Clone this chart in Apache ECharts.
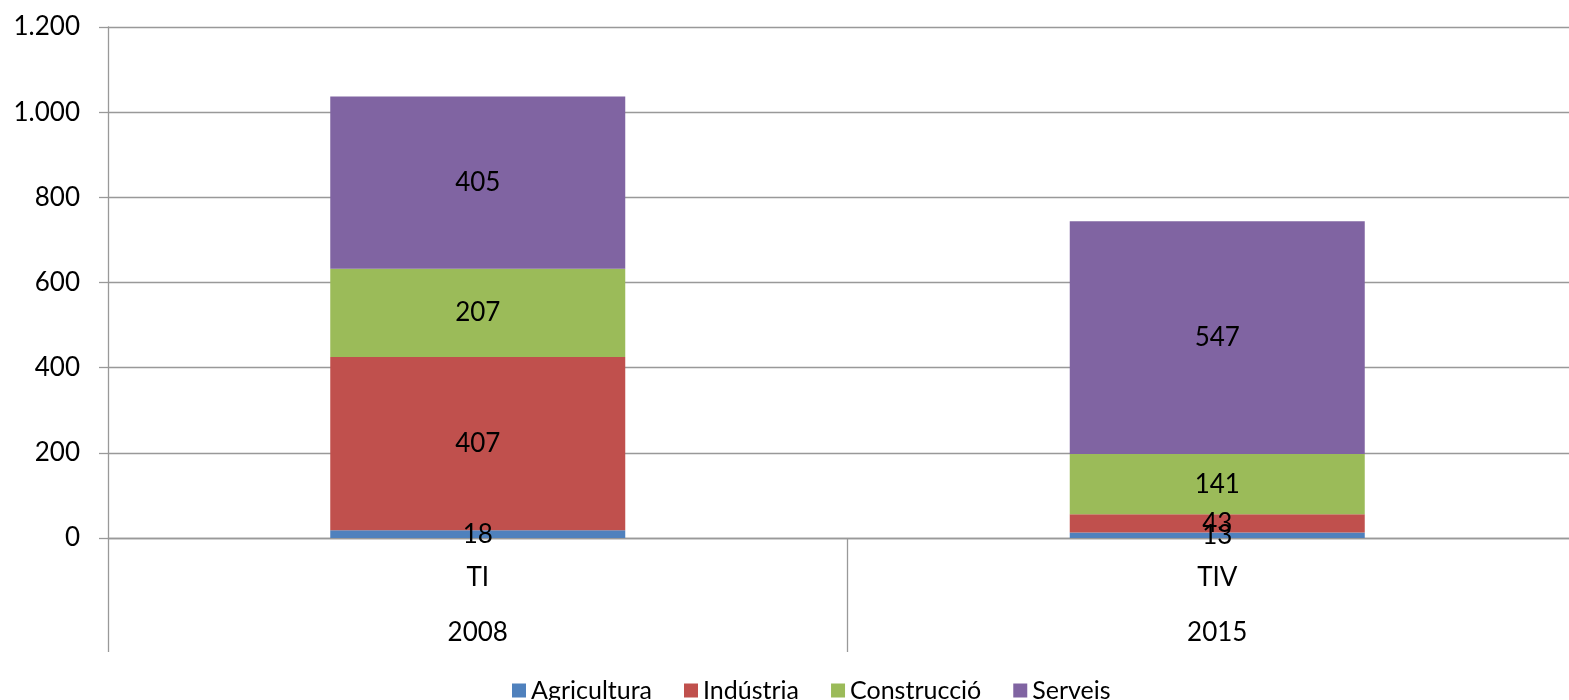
<!DOCTYPE html>
<html>
<head>
<meta charset="utf-8">
<script src="https://cdn.jsdelivr.net/npm/echarts@6/dist/echarts.min.js"></script>
<style>
  html, body { margin: 0; padding: 0; background: #fff; overflow: hidden; }
  /* el gràfic s'estén una mica més enllà de la dreta, com l'original */
  #chart { width: 1587px; height: 700px; }
</style>
</head>
<body>
<div id="chart"></div>
<script>
// dades
var quarters = ['TI', 'TIV'];
var years = ['2008', '2015'];
var sectors = ['Agricultura', 'Indústria', 'Construcció', 'Serveis'];
var agricultura = [18, 13];
var industria = [407, 43];
var construccio = [207, 141];
var serveis = [405, 547];
var yTicks = [0, 200, 400, 600, 800, 1000, 1200];

var colors = ['#4F81BD', '#C0504D', '#9BBB59', '#8064A2'];
var values = [agricultura, industria, construccio, serveis];
var font = 'Lato, "Open Sans", sans-serif';

function fmt(v){
    // separador de milers català
    return String(v).replace(/\B(?=(\d{3})+(?!\d))/g, '.');
}

var series = [];
for (var i = 0; i < sectors.length; i++) {
    series.push({
        name: sectors[i],
        type: 'bar',
        stack: 'total',
        barWidth: 295,
        xAxisIndex: 0,
        data: values[i],
        itemStyle: {color: colors[i]},
        label: {
            show: true,
            position: 'inside',
            color: '#000',
            fontFamily: font,
            fontSize: 26
        }
    });
}

var chart = echarts.init(document.getElementById('chart'));
chart.setOption({
    animation: false,
    color: colors,
    grid: {left: 108, right: 0, top: 27, bottom: 162},
    legend: {
        data: sectors,
        left: 507,
        top: 673,
        icon: 'rect',
        itemWidth: 14,
        itemHeight: 14,
        itemGap: 32,
        textStyle: {fontFamily: font, fontSize: 25, color: '#000'}
    },
    xAxis: [{
        type: 'category',
        data: quarters,
        position: 'bottom',
        axisLine: {show: true, lineStyle: {color: '#999', width: 1.3}},
        axisTick: {show: true, length: 114, lineStyle: {color: '#999', width: 1.3}},
        axisLabel: {margin: 27, color: '#000', fontFamily: font, fontSize: 26}
    }, {
        type: 'category',
        data: years,
        position: 'bottom',
        offset: 0,
        axisLine: {show: false},
        axisTick: {show: false},
        axisLabel: {margin: 82, color: '#000', fontFamily: font, fontSize: 26}
    }],
    yAxis: {
        type: 'value',
        min: yTicks[0],
        max: yTicks[yTicks.length - 1],
        interval: 200,
        axisLine: {show: true, lineStyle: {color: '#999', width: 1.3}},
        axisTick: {show: true, length: 9, lineStyle: {color: '#999', width: 1.3}},
        splitLine: {show: true, lineStyle: {color: '#999', width: 1.3}},
        axisLabel: {
            margin: 28,
            color: '#000',
            fontFamily: font,
            fontSize: 26,
            formatter: fmt
        }
    },
    series: series
});
</script>
</body>
</html>
